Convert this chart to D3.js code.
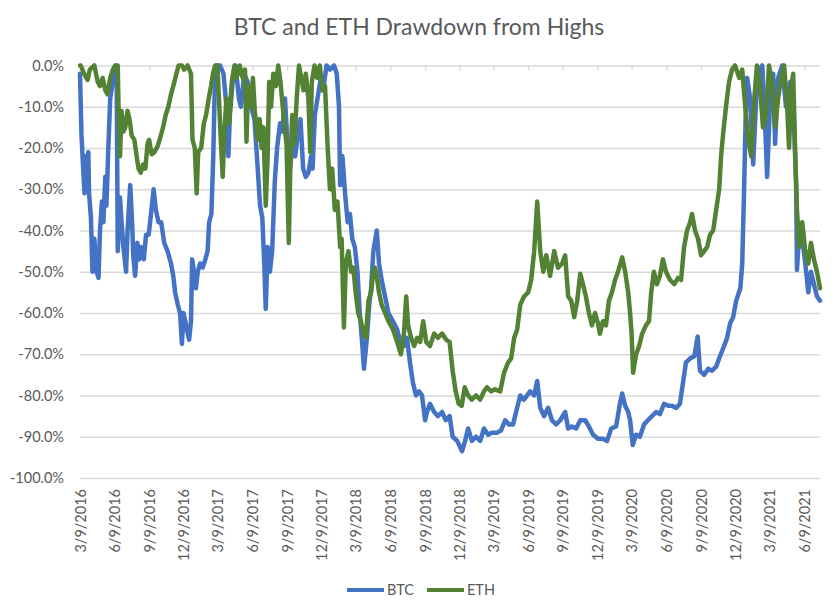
<!DOCTYPE html>
<html>
<head>
<meta charset="utf-8">
<script src="https://cdn.jsdelivr.net/npm/d3@7"></script>
<style>
  body { margin: 0; background: #fff; }
  svg { display: block; font-family: Lato, "Open Sans", sans-serif; }
</style>
</head>
<body>
<div id="chart"></div>
<script>
const chartTitle = "BTC and ETH Drawdown from Highs"
const yTicks = [0, -10, -20, -30, -40, -50, -60, -70, -80, -90, -100]
const xTickLabels = ["3/9/2016", "6/9/2016", "9/9/2016", "12/9/2016", "3/9/2017", "6/9/2017",
  "9/9/2017", "12/9/2017", "3/9/2018", "6/9/2018", "9/9/2018", "12/9/2018", "3/9/2019",
  "6/9/2019", "9/9/2019", "12/9/2019", "3/9/2020", "6/9/2020", "9/9/2020", "12/9/2020",
  "3/9/2021", "6/9/2021"]
const dateRange = ["2016-03-09", "2021-07-21"]

// drawdown in %, [date, value]
const btcData = [
  ["2016-03-09",-2],["2016-03-13",-17],["2016-03-18",-26],["2016-03-21",-31],["2016-03-25",-22],["2016-03-27",-29],
  ["2016-03-31",-21],["2016-04-02",-31],["2016-04-07",-37],["2016-04-11",-50],["2016-04-16",-42],["2016-04-22",-50],
  ["2016-04-27",-51.5],["2016-05-01",-40],["2016-05-06",-33],["2016-05-10",-38],["2016-05-15",-27],["2016-05-18",-34],
  ["2016-05-23",-20],["2016-05-28",-8],["2016-06-02",-5],["2016-06-06",-2],["2016-06-11",0],["2016-06-14",-1],
  ["2016-06-17",-45],["2016-06-23",-32],["2016-06-27",-38],["2016-07-02",-44],["2016-07-09",-50],["2016-07-13",-40],
  ["2016-07-20",-29],["2016-07-25",-38],["2016-07-28",-46],["2016-08-02",-51],["2016-08-08",-43],["2016-08-13",-47],
  ["2016-08-18",-44],["2016-08-25",-47],["2016-08-31",-41],["2016-09-07",-41],["2016-09-13",-36],["2016-09-20",-30],
  ["2016-09-26",-35],["2016-10-03",-38],["2016-10-10",-38],["2016-10-18",-43],["2016-10-27",-45],["2016-11-05",-48],
  ["2016-11-11",-51],["2016-11-16",-55],["2016-11-23",-58],["2016-11-29",-60],["2016-12-04",-67.5],["2016-12-08",-60],
  ["2016-12-13",-62],["2016-12-17",-64],["2016-12-23",-66.5],["2016-12-28",-62],["2016-12-31",-47],["2017-01-05",-50],
  ["2017-01-10",-54],["2017-01-15",-50],["2017-01-21",-48],["2017-01-28",-49],["2017-02-04",-47],["2017-02-10",-45],
  ["2017-02-14",-38],["2017-02-20",-36],["2017-02-25",-22],["2017-03-01",-5],["2017-03-06",0],["2017-03-15",0],
  ["2017-03-24",-2],["2017-04-01",-10],["2017-04-06",-22],["2017-04-10",-12],["2017-04-19",-2],["2017-04-25",0],
  ["2017-05-04",-8],["2017-05-09",-10],["2017-05-18",-2],["2017-05-27",-4],["2017-06-05",-10],["2017-06-14",-13],
  ["2017-06-22",-24],["2017-06-29",-34],["2017-07-05",-37],["2017-07-10",-48],["2017-07-14",-59],["2017-07-19",-44],
  ["2017-07-25",-50],["2017-07-31",-45],["2017-08-07",-28],["2017-08-13",-20],["2017-08-21",-14],["2017-08-27",-16],
  ["2017-09-03",-8],["2017-09-10",-20],["2017-09-16",-25],["2017-09-22",-20],["2017-09-30",-22],["2017-10-05",-18],
  ["2017-10-14",-13],["2017-10-21",-25],["2017-10-28",-27],["2017-11-04",-26],["2017-11-11",-22],["2017-11-15",-25],
  ["2017-11-21",-12],["2017-11-28",-8],["2017-12-07",-3],["2017-12-13",-6],["2017-12-22",0],["2017-12-31",-1],
  ["2018-01-11",0],["2018-01-18",-2],["2018-01-24",-10],["2018-01-27",-29],["2018-02-02",-22],["2018-02-09",-31],
  ["2018-02-16",-38],["2018-02-22",-36],["2018-02-28",-42],["2018-03-07",-44],["2018-03-14",-50],["2018-03-20",-60],
  ["2018-03-27",-68],["2018-03-31",-73.5],["2018-04-08",-66],["2018-04-14",-58],["2018-04-19",-54],["2018-04-25",-45],
  ["2018-05-04",-40],["2018-05-10",-48],["2018-05-17",-52],["2018-05-26",-56],["2018-06-04",-60],["2018-06-16",-62],
  ["2018-06-27",-64],["2018-07-05",-67],["2018-07-15",-68],["2018-07-23",-66],["2018-07-31",-72],["2018-08-08",-77],
  ["2018-08-16",-80],["2018-08-24",-79],["2018-09-01",-80],["2018-09-09",-86],["2018-09-14",-84],["2018-09-22",-82],
  ["2018-10-03",-84],["2018-10-13",-85],["2018-10-24",-84],["2018-11-03",-86],["2018-11-13",-85],["2018-11-21",-90],
  ["2018-12-03",-91],["2018-12-16",-93.5],["2018-12-24",-91],["2019-01-01",-88],["2019-01-11",-91],["2019-01-22",-90],
  ["2019-02-02",-91],["2019-02-12",-88],["2019-02-23",-89.5],["2019-03-05",-89],["2019-03-19",-89],["2019-03-29",-88.5],
  ["2019-04-09",-86],["2019-04-19",-87],["2019-04-30",-87],["2019-05-08",-84],["2019-05-19",-80],["2019-05-29",-81],
  ["2019-06-14",-79],["2019-06-25",-80],["2019-07-03",-76.5],["2019-07-11",-83],["2019-07-21",-85],["2019-08-01",-83],
  ["2019-08-11",-86],["2019-08-22",-87],["2019-09-02",-86],["2019-09-15",-84],["2019-09-23",-88],["2019-10-03",-87.5],
  ["2019-10-14",-88],["2019-10-25",-86],["2019-11-07",-86],["2019-11-17",-87.5],["2019-11-28",-89.5],["2019-12-11",-90.5],
  ["2019-12-24",-90.5],["2020-01-04",-91],["2020-01-15",-88],["2020-01-28",-87.5],["2020-02-07",-82],["2020-02-13",-79.5],
  ["2020-02-21",-82.5],["2020-02-29",-84],["2020-03-05",-86],["2020-03-12",-92],["2020-03-21",-89.5],["2020-03-31",-90],
  ["2020-04-11",-87],["2020-04-21",-86],["2020-05-02",-85],["2020-05-13",-84],["2020-05-23",-84.5],["2020-06-03",-82],
  ["2020-06-14",-82.5],["2020-06-24",-82.5],["2020-07-05",-83],["2020-07-15",-82],["2020-07-23",-77],["2020-07-31",-72],
  ["2020-08-11",-71],["2020-08-22",-70.5],["2020-08-31",-65.7],["2020-09-06",-74],["2020-09-17",-75],["2020-09-28",-73.5],
  ["2020-10-08",-74],["2020-10-19",-73],["2020-10-29",-70.5],["2020-11-09",-68],["2020-11-17",-66],["2020-11-25",-62.5],
  ["2020-12-03",-61],["2020-12-11",-57],["2020-12-22",-54],["2020-12-27",-48],["2021-01-01",-30],["2021-01-05",-13],
  ["2021-01-09",-3],["2021-01-17",-8],["2021-01-25",-24],["2021-02-02",-8],["2021-02-10",-1],["2021-02-18",0],
  ["2021-02-26",-15],["2021-03-03",-27],["2021-03-11",-8],["2021-03-19",-2],["2021-03-24",-19],["2021-04-01",-3],
  ["2021-04-12",0],["2021-04-22",-10],["2021-05-03",-4],["2021-05-11",-8],["2021-05-19",-30],["2021-05-21",-49.6],
  ["2021-05-27",-40],["2021-06-04",-42],["2021-06-12",-48],["2021-06-20",-55],["2021-06-27",-50],["2021-07-05",-53],
  ["2021-07-13",-56],["2021-07-21",-57]
]

const ethData = [
  ["2016-03-09",0],["2016-03-11",0],["2016-03-20",-2],["2016-03-29",-3.5],["2016-04-04",-1],["2016-04-16",0],
  ["2016-04-25",-4],["2016-05-01",-5],["2016-05-08",-3],["2016-05-15",-6],["2016-05-21",-7],["2016-05-28",-3],
  ["2016-06-04",-1],["2016-06-10",0],["2016-06-17",0],["2016-06-19",-10],["2016-06-23",-22],["2016-06-27",-11],
  ["2016-07-02",-16],["2016-07-07",-15],["2016-07-13",-11],["2016-07-18",-13],["2016-07-24",-17],["2016-07-31",-18],
  ["2016-08-06",-22],["2016-08-11",-25],["2016-08-17",-26],["2016-08-23",-24],["2016-08-29",-25],["2016-09-04",-19],
  ["2016-09-08",-18],["2016-09-15",-21.5],["2016-09-22",-21],["2016-10-01",-19.5],["2016-10-09",-17],["2016-10-15",-15],
  ["2016-10-22",-12],["2016-10-29",-10],["2016-11-05",-7],["2016-11-11",-5],["2016-11-18",-2.5],["2016-11-25",0],
  ["2016-12-04",0],["2016-12-10",-1],["2016-12-19",0],["2016-12-28",-2],["2017-01-01",-18],["2017-01-07",-20],
  ["2017-01-12",-31],["2017-01-16",-21],["2017-01-24",-20],["2017-01-31",-14],["2017-02-06",-12],["2017-02-13",-8],
  ["2017-02-19",-5],["2017-02-24",-2],["2017-03-02",0],["2017-03-08",0],["2017-03-13",-10],["2017-03-18",-20],
  ["2017-03-22",-27],["2017-03-27",-15],["2017-04-01",-8],["2017-04-08",-14],["2017-04-15",-4],["2017-04-22",0],
  ["2017-04-28",-3],["2017-05-06",0],["2017-05-14",-3],["2017-05-20",-1],["2017-05-24",-18.5],["2017-05-28",-5],
  ["2017-06-04",-10],["2017-06-10",-3],["2017-06-15",-11],["2017-06-22",-18],["2017-06-28",-13],["2017-07-03",-20],
  ["2017-07-08",-15],["2017-07-14",-34],["2017-07-19",-22],["2017-07-23",-4],["2017-07-28",-10],["2017-08-03",-2],
  ["2017-08-10",-5],["2017-08-16",0],["2017-08-22",-4],["2017-08-27",-9],["2017-09-02",-15],["2017-09-07",-19],
  ["2017-09-13",-43],["2017-09-17",-25],["2017-09-22",-12],["2017-09-28",-19],["2017-10-04",-8],["2017-10-10",0],
  ["2017-10-16",-3],["2017-10-22",-6],["2017-10-28",-2],["2017-11-04",-8],["2017-11-09",-21],["2017-11-13",-4],
  ["2017-11-20",0],["2017-11-27",-3],["2017-12-04",0],["2017-12-11",-6],["2017-12-18",-5],["2017-12-25",-20],
  ["2017-12-31",-30],["2018-01-06",-25],["2018-01-13",-35],["2018-01-20",-33],["2018-01-27",-44],["2018-01-31",-42],
  ["2018-02-06",-63.5],["2018-02-11",-48],["2018-02-18",-45],["2018-02-25",-50],["2018-03-03",-49],["2018-03-09",-55],
  ["2018-03-16",-60],["2018-03-23",-62],["2018-03-30",-65],["2018-04-05",-66],["2018-04-12",-57],["2018-04-19",-55],
  ["2018-04-25",-50],["2018-04-29",-49],["2018-05-04",-51],["2018-05-10",-55],["2018-05-17",-58],["2018-05-26",-60],
  ["2018-06-04",-62],["2018-06-16",-64],["2018-06-27",-67],["2018-07-07",-70],["2018-07-15",-65],["2018-07-21",-56],
  ["2018-07-26",-63],["2018-08-03",-66],["2018-08-11",-68],["2018-08-19",-66],["2018-08-27",-67],["2018-09-04",-62],
  ["2018-09-12",-67],["2018-09-22",-68],["2018-10-03",-65],["2018-10-13",-66],["2018-10-24",-65],["2018-11-04",-66.5],
  ["2018-11-13",-67],["2018-11-21",-74],["2018-11-29",-79],["2018-12-07",-82],["2018-12-15",-82.5],["2018-12-23",-78],
  ["2019-01-01",-80],["2019-01-11",-81],["2019-01-22",-80],["2019-02-02",-81],["2019-02-12",-79],["2019-02-20",-78],
  ["2019-03-03",-79],["2019-03-13",-78.5],["2019-03-27",-79],["2019-04-06",-74.5],["2019-04-17",-72],["2019-04-25",-71],
  ["2019-05-03",-66],["2019-05-11",-64],["2019-05-19",-58],["2019-05-29",-56],["2019-06-09",-55],["2019-06-17",-52],
  ["2019-06-25",-45],["2019-07-03",-33],["2019-07-11",-45],["2019-07-19",-50],["2019-07-27",-46],["2019-08-06",-51],
  ["2019-08-17",-45],["2019-08-27",-49],["2019-09-07",-48],["2019-09-15",-46],["2019-09-23",-56],["2019-10-01",-57],
  ["2019-10-09",-61],["2019-10-17",-57],["2019-10-25",-50.5],["2019-11-01",-53],["2019-11-09",-56],["2019-11-17",-60],
  ["2019-11-25",-63],["2019-12-03",-60],["2019-12-11",-62.5],["2019-12-16",-65],["2019-12-24",-62],["2020-01-01",-63],
  ["2020-01-09",-57],["2020-01-17",-55],["2020-01-25",-52],["2020-02-02",-50],["2020-02-13",-46.5],["2020-02-21",-50],
  ["2020-02-29",-55],["2020-03-05",-60],["2020-03-09",-65],["2020-03-13",-74.5],["2020-03-21",-70],["2020-03-29",-68],
  ["2020-04-06",-65],["2020-04-16",-63],["2020-04-24",-62],["2020-04-30",-55],["2020-05-07",-50],["2020-05-15",-53],
  ["2020-05-23",-51],["2020-05-31",-47],["2020-06-08",-50],["2020-06-19",-52],["2020-06-30",-53],["2020-07-10",-51.5],
  ["2020-07-18",-52],["2020-07-26",-44],["2020-08-03",-40],["2020-08-11",-38],["2020-08-16",-36],["2020-08-24",-40],
  ["2020-09-01",-42],["2020-09-09",-46],["2020-09-17",-45],["2020-09-25",-44],["2020-10-03",-41],["2020-10-11",-40],
  ["2020-10-19",-35],["2020-10-27",-30],["2020-11-01",-22],["2020-11-06",-17],["2020-11-14",-10],["2020-11-22",-4],
  ["2020-11-30",-1],["2020-12-08",0],["2020-12-19",-3],["2020-12-27",-1],["2021-01-04",-10],["2021-01-12",-18],
  ["2021-01-20",-22],["2021-01-28",-8],["2021-02-04",0],["2021-02-12",-5],["2021-02-20",-15],["2021-02-28",-12],
  ["2021-03-08",0],["2021-03-16",-4],["2021-03-24",-15],["2021-04-01",-8],["2021-04-09",-3],["2021-04-17",0],
  ["2021-04-25",-10],["2021-04-30",-20],["2021-05-06",-5],["2021-05-11",-2],["2021-05-16",-20],["2021-05-21",-35],
  ["2021-05-27",-44],["2021-06-04",-38],["2021-06-12",-45],["2021-06-20",-48],["2021-06-27",-43],["2021-07-05",-47],
  ["2021-07-13",-50],["2021-07-21",-54]
]

const seriesNames = ["BTC", "ETH"]
const seriesColors = ["#4472C4", "#548235"]

const size = [839, 614]
const margin = ({top: 65.5, right: 19, bottom: 136, left: 80})
const textColor = "#595959"
const gridColor = "#D9D9D9"

const parseIso = d3.timeParse("%Y-%m-%d")
const parseLabel = d3.timeParse("%m/%d/%Y")
const formatLabel = d3.timeFormat("%-m/%-d/%Y")

const svg = d3.create("svg")
  .attr("width", size[0])
  .attr("height", size[1])

svg.append("rect")
  .attr("width", size[0])
  .attr("height", size[1])
  .attr("fill", "#fff")

const scaleX = d3.scaleTime()
  .domain(dateRange.map(parseIso))
  .range([margin.left, size[0] - margin.right])

const scaleY = d3.scaleLinear()
  .domain([-100, 0])
  .range([size[1] - margin.bottom, margin.top])

// title
svg.append("text")
  .attr("x", 419)
  .attr("y", 35)
  .attr("text-anchor", "middle")
  .attr("font-size", 23)
  .attr("fill", textColor)
  .text(chartTitle)

// y axis + gridlines
const yAxis = g => g
  .attr("transform", `translate(${margin.left},0)`)
  .call(d3.axisLeft(scaleY)
    .tickValues(yTicks)
    .tickSize(-(size[0] - margin.left - margin.right))
    .tickPadding(16)
    .tickFormat(d => d.toFixed(1) + "%"))
  .call(g => g.select(".domain").remove())
  .call(g => g.selectAll(".tick line").attr("stroke", gridColor).attr("stroke-width", 1.3))
  .call(g => g.selectAll(".tick text")
    .attr("fill", textColor)
    .attr("font-size", 14.5)
    .attr("font-family", "Lato, 'Open Sans', sans-serif"))

svg.append("g").call(yAxis)

const tickDates = xTickLabels.map(parseLabel)

// small tick marks on the zero line
const xTicksTop = g => g
  .attr("transform", `translate(0,${margin.top})`)
  .call(d3.axisBottom(scaleX)
    .tickValues(tickDates)
    .tickSize(5)
    .tickFormat(""))
  .call(g => g.select(".domain").remove())
  .call(g => g.selectAll(".tick line").attr("stroke", gridColor).attr("stroke-width", 1.3))

svg.append("g").call(xTicksTop)

// date labels under the plot
const xAxis = g => g
  .attr("transform", `translate(0,${size[1] - margin.bottom})`)
  .call(d3.axisBottom(scaleX)
    .tickValues(tickDates)
    .tickSize(0)
    .tickFormat(formatLabel))
  .call(g => g.select(".domain").remove())
  .call(g => g.selectAll(".tick text")
    .attr("transform", "rotate(-90)")
    .attr("text-anchor", "end")
    .attr("x", -11)
    .attr("y", 0)
    .attr("dy", "0.35em")
    .attr("fill", textColor)
    .attr("font-size", 14.5)
    .attr("font-family", "Lato, 'Open Sans', sans-serif"))

svg.append("g").call(xAxis)

const line = d3.line()
  .x(d => scaleX(parseIso(d[0])))
  .y(d => scaleY(d[1]))

svg.append("g")
  .attr("fill", "none")
  .attr("stroke-width", 4.5)
  .attr("stroke-linejoin", "round")
  .attr("stroke-linecap", "round")
  .selectAll("path")
  .data([btcData, ethData])
  .join("path")
    .attr("stroke", (_, i) => seriesColors[i])
    .attr("d", line)

// legend
const legendX = [347, 427]
const legend = svg.append("g")
  .selectAll("g")
  .data(seriesNames)
  .join("g")
    .attr("transform", (_, i) => `translate(${legendX[i]},590)`)
legend.append("line")
  .attr("x1", 0)
  .attr("x2", 37)
  .attr("stroke", (_, i) => seriesColors[i])
  .attr("stroke-width", 4)
legend.append("text")
  .attr("x", 40)
  .attr("dy", "0.35em")
  .attr("font-size", 14.5)
  .attr("fill", textColor)
  .text(d => d)

d3.select("#chart").append(() => svg.node())
</script>
</body>
</html>
